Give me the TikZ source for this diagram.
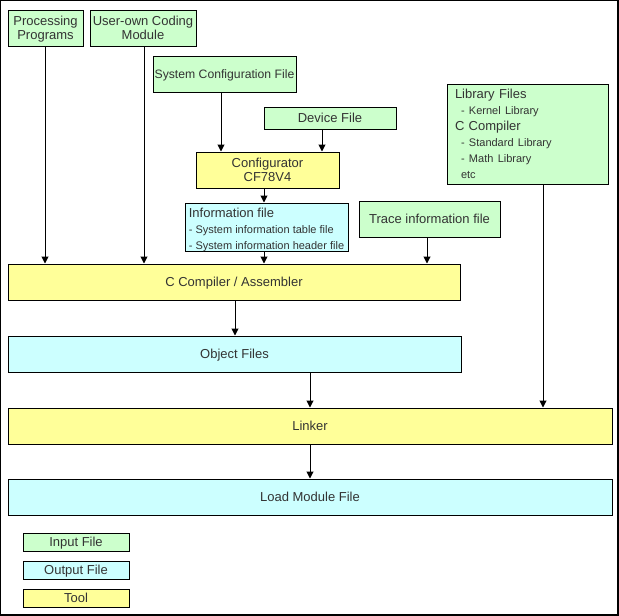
\documentclass[tikz,border=0pt]{standalone}
\usepackage{fontspec}
\setmainfont{Liberation Sans}
\usetikzlibrary{positioning,arrows.meta}
\definecolor{infill}{HTML}{CCFFCC}
\definecolor{outfill}{HTML}{CCFFFF}
\definecolor{toolfill}{HTML}{FFFF99}
\definecolor{txt}{HTML}{333333}
\newcommand{\smalltxt}{\fontsize{11}{15}\selectfont}
\tikzset{
    box/.style={draw=black, line width=1pt, text=txt, inner sep=0pt, text depth=0pt,
        font=\fontsize{13}{14.5}\selectfont, align=center},
    input file/.style={box, fill=infill},
    output file/.style={box, fill=outfill},
    tool box/.style={box, fill=toolfill},
    flow/.style={-{Triangle[width=7pt,length=7pt]}, line width=1pt}
}

\begin{document}
\begin{tikzpicture}[x=1pt, y=-1pt]
\useasboundingbox (0,0) rectangle (619,616);
\draw[line width=1.2pt] (0.6,0.6) rectangle (618,615);

% input files
\node[input file, minimum width=75, minimum height=36] (procprog) at (45.5,28)
    {Processing\\Programs};
\node[input file, minimum width=106, minimum height=36] (usermod) at (143,28)
    {User-own Coding\\Module};
\node[input file, minimum width=143, minimum height=36,
    font=\fontsize{12.2}{14.5}\selectfont] (sysconf) at (224.5,74)
    {System Configuration File};
\node[input file, minimum width=132, minimum height=22] (device) at (330,118)
    {Device File};
\node[input file, minimum width=141, minimum height=36] (trace) at (429.5,219)
    {Trace information file};
\node[input file, minimum width=161, minimum height=100, align=left, text width=145,
    text depth=, font=\fontsize{13}{16}\selectfont] (lib) at (527.5,134)
    {Library Files\\
     \hspace*{6pt}{\smalltxt - Kernel Library}\\
     C Compiler\\
     \hspace*{6pt}{\smalltxt - Standard Library}\\
     \hspace*{6pt}{\smalltxt - Math Library}\\
     \hspace*{6pt}{\smalltxt etc}};

% tools and outputs
\node[tool box, minimum width=143, minimum height=36] (config) at (267.5,170)
    {Configurator\\CF78V4};
\node[output file, minimum width=163, minimum height=48, align=left,
    font=\fontsize{13}{16}\selectfont] (info) at (266.5,227)
    {\rule{0pt}{13pt}Information file\\
     {\smalltxt - System information table file}\\
     {\smalltxt - System information header file}};
\node[tool box, minimum width=452, minimum height=36] (compiler) at (234,282)
    {C Compiler / Assembler};
\node[output file, minimum width=453, minimum height=36] (objfiles) at (234.5,354)
    {Object Files};
\node[tool box, minimum width=604, minimum height=36] (linker) at (310,426)
    {Linker};
\node[output file, minimum width=604, minimum height=36] (loadmod) at (310,497)
    {Load Module File};

% legend
\node[input file, minimum width=106, minimum height=18] (keyin) at (76,542) {Input File};
\node[output file, minimum width=106, minimum height=18, below=9pt of keyin] (keyout) {Output File};
\node[tool box, minimum width=106, minimum height=18, below=9pt of keyout] (keytool) {Tool};

% arrows
\draw[flow] ([xshift=-0.5]procprog.south) -- ([xshift=-0.5]procprog.south |- compiler.north);
\draw[flow] ([xshift=1]usermod.south) -- ([xshift=1]usermod.south |- compiler.north);
\draw[flow] ([xshift=-3.5]sysconf.south) -- ([xshift=-3.5]sysconf.south |- config.north);
\draw[flow] ([xshift=-8]device.south) -- ([xshift=-8]device.south |- config.north);
\draw[flow] ([xshift=-3.5]config.south) -- ([xshift=-3.5]config.south |- info.north);
\draw[flow] ([xshift=-2.5]info.south) -- ([xshift=-2.5]info.south |- compiler.north);
\draw[flow] ([xshift=-2.5]trace.south) -- ([xshift=-2.5]trace.south |- compiler.north);
\draw[flow] ([xshift=15.5]lib.south) -- ([xshift=15.5]lib.south |- linker.north);
\draw[flow] ([xshift=1]compiler.south) -- ([xshift=1]compiler.south |- objfiles.north);
\draw[flow] (linker.north |- objfiles.south) -- (linker.north);
\draw[flow] (linker.south) -- (loadmod.north);
\end{tikzpicture}
\end{document}
